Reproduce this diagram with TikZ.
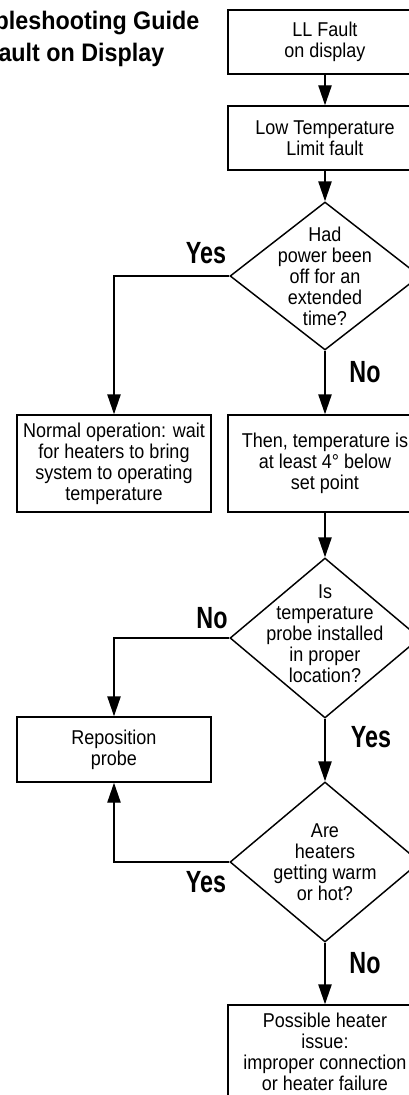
\documentclass[tikz,border=0pt]{standalone}
\usepackage{fontspec}
\setmainfont[FakeStretch=0.9]{Liberation Sans}
\newfontfamily\lblfont[FakeStretch=0.76]{Liberation Sans}
\newfontfamily\ttlfont[FakeStretch=0.92]{Liberation Sans}
\usetikzlibrary{arrows.meta,shapes.geometric}
\begin{document}
\begin{tikzpicture}[x=0.75pt,y=-0.75pt,
  line width=1.1pt,
  every node/.style={font=\fontsize{15}{15.75}\selectfont},
  stepbox/.style={draw, rectangle, minimum width=145.5pt, align=center, inner sep=0pt},
  decision/.style={draw, diamond, minimum width=142.5pt, inner sep=0pt},
  qtext/.style={align=center, inner sep=0pt},
  lbl/.style={font=\lblfont\bfseries\fontsize{23}{23}\selectfont, inner sep=0pt},
  ttl/.style={font=\ttlfont\bfseries\fontsize{19}{19}\selectfont, inner sep=0pt, anchor=base east},
  arr/.style={-{Triangle[length=15pt,width=10pt]}}
]
\useasboundingbox (0,0) rectangle (409,1095);
\clip (0,0) rectangle (409,1095);

% title
\node[ttl] (t1) at (200,30) {Troubleshooting Guide};
\node[ttl] (t2) at (165,62) {Fault on Display};

% boxes
\node[stepbox, minimum height=48pt] (b1) at (325,42) {LL Fault\\on display};
\node[stepbox, minimum height=48pt] (b2) at (325,138) {Low Temperature\\Limit fault};
\node[decision, minimum height=111pt] (d1) at (325,276) {};
\node[qtext] (q1) at (d1) {Had\\power been\\off for an\\extended\\time?};
\node[stepbox, minimum height=72.75pt] (b3) at (114,463.5) {Normal operation: wait\\for heaters to bring\\system to operating\\temperature};
\node[stepbox, minimum height=72.75pt] (b4) at (325,463.5) {Then, temperature is\\at least 4° below\\set point};
\node[decision, minimum height=120pt] (d2) at (325,638) {};
\node[qtext] (q2) at (325,634) {Is\\temperature\\probe installed\\in proper\\location?};
\node[stepbox, minimum height=48.75pt] (b5) at (114,749.5) {Reposition\\probe};
\node[decision, minimum height=120pt] (d3) at (325,862) {};
\node[qtext] (q3) at (d3) {Are\\heaters\\getting warm\\or hot?};
\node[stepbox, minimum height=70.5pt] (b6) at (325,1052) {Possible heater\\issue:\\improper connection\\or heater failure};

% labels
\node[lbl] (l1) at (206,253) {Yes};
\node[lbl] (l2) at (365,372) {No};
\node[lbl] (l3) at (212,618) {No};
\node[lbl] (l4) at (371,737) {Yes};
\node[lbl] (l5) at (206,882) {Yes};
\node[lbl] (l6) at (365,963) {No};

% connectors
\draw[arr] (b1.south) -- (b2.north);
\draw[arr] (b2.south) -- (d1.north);
\draw[arr] (d1.west) -| (b3.north);
\draw[arr] (d1.south) -- (b4.north);
\draw[arr] (b4.south) -- (d2.north);
\draw[arr] (d2.west) -| (b5.north);
\draw[arr] (d2.south) -- (d3.north);
\draw[arr] (d3.west) -| (b5.south);
\draw[arr] (d3.south) -- (b6.north);
\end{tikzpicture}
\end{document}
